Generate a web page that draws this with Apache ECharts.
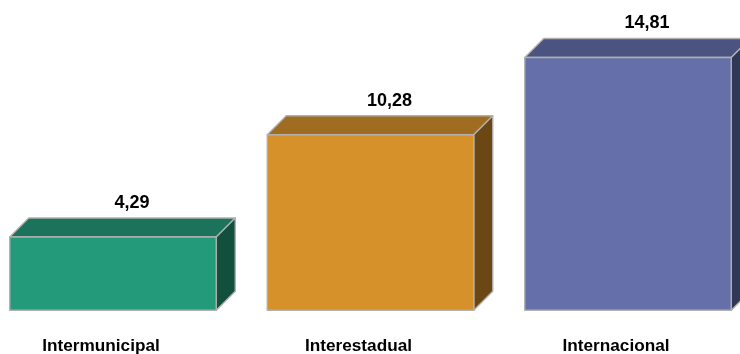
<!DOCTYPE html>
<html>
<head>
<meta charset="utf-8">
<style>html,body{margin:0;padding:0;background:#fff}#c{width:740px;height:354px}</style>
<script src="https://cdn.jsdelivr.net/npm/echarts@6/dist/echarts.min.js"></script>
</head>
<body>
<div id="c"></div>
<script>
const categories = ['Intermunicipal', 'Interestadual', 'Internacional'];
const values = [4.29, 10.28, 14.81];
const valueLabels = ['4,29', '10,28', '14,81'];
const frontColors = ['#239B7A', '#D6912B', '#6570AA'];
const topColors = ['#1B735C', '#A06C22', '#4B5480'];
const sideColors = ['#124F3D', '#6B4714', '#313857'];

const chart = echarts.init(document.getElementById('c'), null, {renderer: 'canvas'});
const DEPTH = 19, OFFSET = 12, BAR_W = 206.5, EDGE = '#B0B0B0';
const FONT = 'Liberation Sans, Arial, sans-serif';

function renderItem(params, api) {
  const i = api.value(0);
  const top = api.coord([i, api.value(1)]);
  const base = api.coord([i, 0]);
  const x0 = top[0] + OFFSET - BAR_W / 2, x1 = x0 + BAR_W;
  const y0 = top[1], y1 = base[1];
  const poly = (points, fill) => ({
    type: 'polygon',
    shape: {points},
    style: {fill, stroke: EDGE, lineWidth: 1.4, lineJoin: 'round'}
  });
  return {
    type: 'group',
    children: [
      poly([[x0, y0], [x0 + DEPTH, y0 - DEPTH], [x1 + DEPTH, y0 - DEPTH], [x1, y0]], topColors[i]),
      poly([[x1, y0], [x1 + DEPTH, y0 - DEPTH], [x1 + DEPTH, y1 - DEPTH], [x1, y1]], sideColors[i]),
      poly([[x0, y0], [x1, y0], [x1, y1], [x0, y1]], frontColors[i]),
      {
        type: 'text',
        style: {
          x: (x0 + x1) / 2 + DEPTH, y: y0 - DEPTH - 6,
          text: valueLabels[i],
          fill: '#000', font: 'bold 18px ' + FONT,
          align: 'center', verticalAlign: 'bottom'
        }
      }
    ]
  };
}

chart.setOption({
  animation: false,
  backgroundColor: '#fff',
  grid: {left: -27.75, width: 772.5, top: 37.2, height: 273, outerBoundsMode: 'none', containLabel: false},
  xAxis: {
    type: 'category',
    data: categories,
    axisLine: {show: false},
    axisTick: {show: false},
    axisLabel: {
      show: true, interval: 0, margin: 28,
      color: '#000', fontFamily: FONT, fontWeight: 'bold', fontSize: 17.2
    }
  },
  yAxis: {type: 'value', min: 0, max: 16, show: false, splitLine: {show: false}},
  series: [{
    type: 'custom',
    renderItem,
    clip: false,
    encode: {x: 0, y: 1},
    data: values.map((v, i) => [i, v])
  }]
});
</script>
</body>
</html>
